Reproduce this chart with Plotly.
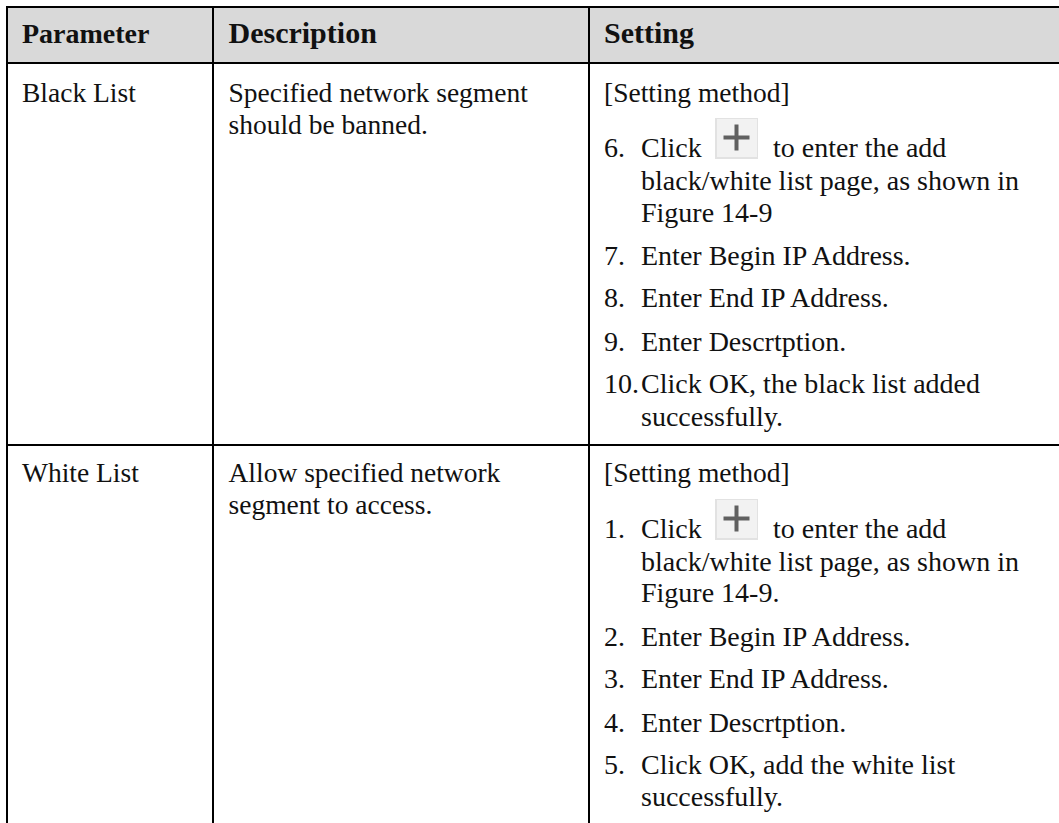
import plotly.graph_objects as go

W, H = 1059, 823

# ---- content ----
headers = ["Parameter", "Description", "Setting"]
parameters = ["Black List", "White List"]
descriptions = [
    ["Specified network segment", "should be banned."],
    ["Allow specified network", "segment to access."],
]
steps_black = [
    ("6.", ["Click", "black/white list page, as shown in", "Figure 14-9"]),
    ("7.", ["Enter Begin IP Address."]),
    ("8.", ["Enter End IP Address."]),
    ("9.", ["Enter Descrtption."]),
    ("10.", ["Click OK, the black list added", "successfully."]),
]
steps_white = [
    ("1.", ["Click", "black/white list page, as shown in", "Figure 14-9."]),
    ("2.", ["Enter Begin IP Address."]),
    ("3.", ["Enter End IP Address."]),
    ("4.", ["Enter Descrtption."]),
    ("5.", ["Click OK, add the white list", "successfully."]),
]
setting_title = "[Setting method]"
after_icon = "to enter the add"

# ---- layout of the table (pixel scale of the axes) ----
FONT_BODY = "Liberation Serif"
SIZE_BODY = 28
SIZE_FIRST = 27.5
head_sizes = [28, 30, 30]
TEXT = "#111111"
HEAD_FILL = "#d9d9d9"
col_lines = [7, 213, 589]
row_lines = [7, 63, 445]
head_base = 44.5
col_text = [22, 228.5, 604]
step_text_x = 641
after_icon_x = 773
icon_x = (715, 758)
plus_half = 13
base_black_title = 103
base_black_lines = [158, 191, 223, 266, 308, 352, 394, 427]
base_white_title = 483
base_white_lines = [539, 572, 603, 647, 689, 733, 775, 807]
icon_tops = [118, 499]
BASE_RATIO = -0.3  # baseline to text-middle offset, in em


def text_trace(xs, ys, texts, size=SIZE_BODY, family=FONT_BODY, bold=False):
    return go.Scatter(
        x=xs,
        y=[y + BASE_RATIO * size for y in ys],
        text=[f"<b>{t}</b>" if bold else t for t in texts],
        mode="text",
        textposition="middle right",
        textfont=dict(family=family, size=size, color=TEXT),
        hoverinfo="skip",
        showlegend=False,
    )


fig = go.Figure()

# header band
fig.add_shape(type="rect", x0=col_lines[0], x1=W, y0=row_lines[0], y1=row_lines[1],
              fillcolor=HEAD_FILL, line_width=0, layer="below")

# rules
for y in row_lines:
    fig.add_shape(type="line", x0=col_lines[0] - 1, x1=W, y0=y, y1=y, line=dict(color="#000", width=2))
for x in col_lines:
    fig.add_shape(type="line", x0=x, x1=x, y0=row_lines[0], y1=H, line=dict(color="#000", width=2))

# plus icons
for top in icon_tops:
    fig.add_shape(type="rect", x0=icon_x[0], x1=icon_x[1], y0=top, y1=top + 41,
                  fillcolor="#e2e2e2", line_width=0, layer="below")
    fig.add_shape(type="rect", x0=icon_x[0] + 2, x1=icon_x[1] - 1, y0=top + 1, y1=top + 39,
                  fillcolor="#f2f2f2", line_width=0, layer="below")
    cx, cy = sum(icon_x) / 2, top + 19.5
    fig.add_shape(type="line", x0=cx - plus_half, x1=cx + plus_half, y0=cy, y1=cy,
                  line=dict(color="#606060", width=4))
    fig.add_shape(type="line", x0=cx, x1=cx, y0=cy - plus_half, y1=cy + plus_half,
                  line=dict(color="#606060", width=4))

# header text
for x, label, size in zip(col_text, headers, head_sizes):
    fig.add_trace(text_trace([x], [head_base], [label], size=size, bold=True))

# first two columns
for param, desc, base in zip(parameters, descriptions, [base_black_title, base_white_title]):
    fig.add_trace(text_trace([col_text[0]], [base], [param], size=SIZE_FIRST))
    fig.add_trace(text_trace([col_text[1]] * 2, [base, base + 32], desc, size=SIZE_FIRST))

# setting column
for title_base, steps, bases in [
    (base_black_title, steps_black, base_black_lines),
    (base_white_title, steps_white, base_white_lines),
]:
    fig.add_trace(text_trace([col_text[2]], [title_base], [setting_title], size=SIZE_FIRST))
    i = 0
    for num, lines in steps:
        fig.add_trace(text_trace([col_text[2]], [bases[i]], [num]))
        for line in lines:
            fig.add_trace(text_trace([step_text_x], [bases[i]], [line]))
            if line == "Click":
                fig.add_trace(text_trace([after_icon_x], [bases[i]], [after_icon]))
            i += 1

axis = dict(visible=False, fixedrange=True)
fig.update_layout(
    width=W,
    height=H,
    margin=dict(l=0, r=0, t=0, b=0),
    paper_bgcolor="white",
    plot_bgcolor="white",
    xaxis=dict(range=[0, W], **axis),
    yaxis=dict(range=[H, 0], **axis),
    showlegend=False,
)

fig.write_html(
    "out.html",
    config={"displayModeBar": False},
    post_script="document.body.style.margin='0';document.body.style.overflow='hidden';",
)
